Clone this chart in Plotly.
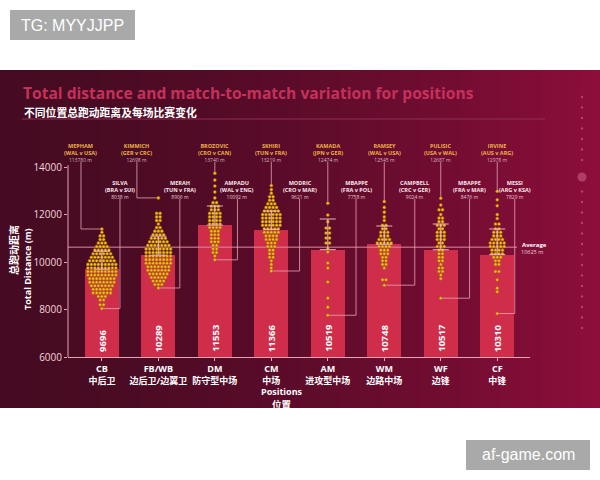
import plotly.graph_objects as go

# ---------------- data ----------------
positions = ["CB", "FB/WB", "DM", "CM", "AM", "WM", "WF", "CF"]
positions_cn = ["中后卫", "边后卫/边翼卫", "防守型中场", "中场", "进攻型中场", "边路中场", "边锋", "中锋"]
mean_dist = [9696, 10289, 11553, 11366, 10519, 10748, 10517, 10310]
sd_top = [10450, 11090, 12358, 12147, 11810, 11516, 11600, 11390]
average = 10625

max_players = ["MEPHAM", "KIMMICH", "BROZOVIC", "SKHIRI", "KAMADA", "RAMSEY", "PULISIC", "IRVINE"]
max_matches = ["(WAL v USA)", "(GER v CRC)", "(CRO v CAN)", "(TUN v FRA)", "(JPN v GER)", "(WAL v USA)", "(USA v WAL)", "(AUS v ARG)"]
max_labels = ["113780", "12698", "13740", "13219", "12474", "12545", "12687", "12978"]
min_players = ["SILVA", "MERAH", "AMPADU", "MODRIC", "MBAPPE", "CAMPBELL", "MBAPPE", "MESSI"]
min_matches = ["(BRA v SUI)", "(TUN v FRA)", "(WAL v ENG)", "(CRO v MAR)", "(FRA v POL)", "(CRC v GER)", "(FRA v MAR)", "(ARG v KSA)"]
min_labels = ["8038", "8906", "10092", "9621", "7758", "9024", "8476", "7829"]

# swarm rows: (distance, number of dots in that row), top to bottom
cb_swarm = [(11390, 1), (11250, 1), (11100, 2), (10950, 2), (10800, 3), (10650, 4), (10500, 5), (10350, 6),
            (10200, 7), (10050, 8), (9900, 9), (9750, 9), (9600, 9), (9450, 9), (9300, 8), (9150, 8),
            (9000, 7), (8850, 6), (8700, 6), (8550, 3), (8400, 2), (8200, 2), (8038, 1)]
fb_swarm = [(12698, 1), (12050, 2), (11900, 2), (11750, 2), (11600, 1), (11450, 2), (11300, 3), (11150, 4),
            (11000, 5), (10850, 6), (10700, 7), (10550, 8), (10400, 8), (10250, 8), (10100, 8), (9950, 8),
            (9800, 7), (9650, 7), (9500, 6), (9350, 5), (9200, 4), (9050, 3), (8906, 1)]
dm_swarm = [(13740, 1), (13450, 1), (13200, 1), (12950, 1), (12700, 1), (12500, 2), (12350, 3), (12200, 3),
            (12050, 4), (11900, 4), (11750, 4), (11600, 4), (11450, 4), (11300, 3), (11150, 3), (11000, 3),
            (10850, 3), (10700, 2), (10550, 2), (10400, 2), (10250, 1), (10092, 1)]
cm_swarm = [(13219, 1), (13050, 1), (12900, 1), (12750, 2), (12600, 2), (12450, 3), (12300, 4), (12150, 5),
            (12000, 6), (11850, 6), (11700, 6), (11550, 6), (11400, 5), (11250, 5), (11100, 4), (10950, 4),
            (10800, 3), (10650, 3), (10500, 2), (10350, 2), (10200, 2), (10050, 1), (9900, 1), (9750, 1), (9621, 1)]
am_swarm = [(12474, 1), (11980, 1), (11700, 1), (11430, 2), (11220, 2), (11010, 2), (10800, 2), (10590, 1),
            (10420, 1), (9960, 1), (9750, 1), (9160, 1), (8480, 1), (8100, 1), (7758, 1)]
wm_swarm = [(12545, 1), (12300, 1), (12100, 1), (11900, 1), (11750, 1), (11550, 2), (11400, 2), (11250, 3),
            (11100, 3), (10950, 4), (10800, 5), (10650, 4), (10500, 3), (10350, 3), (10200, 2), (10050, 2),
            (9900, 2), (9750, 1), (9250, 2), (9024, 1)]
wf_swarm = [(12687, 1), (12400, 1), (12200, 2), (12000, 1), (11850, 2), (11700, 2), (11550, 3), (11400, 2),
            (11250, 3), (11100, 3), (10950, 3), (10800, 2), (10650, 3), (10500, 2), (10350, 2), (10200, 2),
            (10050, 2), (9900, 1), (9750, 2), (9600, 2), (9450, 1), (9300, 1), (8476, 1)]
cf_swarm = [(12978, 1), (12620, 1), (12370, 1), (12000, 1), (11830, 1), (11600, 2), (11400, 2), (11250, 3),
            (11100, 3), (10950, 4), (10800, 5), (10650, 5), (10500, 4), (10350, 4), (10200, 3), (10050, 2),
            (9900, 2), (9600, 2), (9250, 1), (8900, 1), (8750, 1), (7829, 1)]
swarms = [cb_swarm, fb_swarm, dm_swarm, cm_swarm, am_swarm, wm_swarm, wf_swarm, cf_swarm]

ytick_vals = [6000, 8000, 10000, 12000, 14000]
ytick_text = ["6000", "8000", "10000", "12000", "14000"]

# ---------------- layout geometry ----------------
W, H = 600, 480
L, R, T, B = 68, 70, 138, 123
PW, PH = W - L - R, H - T - B
Y0PX = H - B
px_per_m = 47.5 / 2000
y_top = 6000 + PH / px_per_m
x_left, x_right = -0.6, 7.58
unit_px = PW / (x_right - x_left)


def pxx(px):
    return (px - L) / PW


def pxy(py):
    return (Y0PX - py) / PH


def py2data(py):
    return 6000 + (Y0PX - py) / px_per_m


max_off = [-0.37, -0.38, 0, 0, 0, 0, 0, 0]
min_off = [0.32, 0.38, 0.40, 0.50, 0.50, 0.54, 0.51, 0.31]

FONT = "Open Sans, Noto Sans CJK SC, sans-serif"
CJK = "Noto Sans CJK SC, sans-serif"
LINEC = "#e7a2b4"

fig = go.Figure()

# bars
fig.add_trace(go.Bar(
    x=list(range(len(positions))), y=mean_dist, width=0.6,
    marker=dict(color="#cf2d4a", line=dict(width=0)),
    hoverinfo="skip",
))

# average line
fig.add_trace(go.Scatter(
    x=[x_left, 7.35], y=[average, average], mode="lines",
    line=dict(color="#e08aa1", width=1), hoverinfo="skip",
))

# connectors
cx, cy = [], []
top_label_py, low_label_py = 162, 199
for i, sw in enumerate(swarms):
    vmax = sw[0][0]
    vmin = sw[-1][0]
    xm = i + max_off[i]
    cx += [xm, xm, i, None]
    cy += [py2data(top_label_py), vmax, vmax, None]
    xn = i + min_off[i]
    cx += [xn, xn, i, None]
    cy += [py2data(low_label_py), vmin, vmin, None]
fig.add_trace(go.Scatter(x=cx, y=cy, mode="lines", line=dict(color=LINEC, width=0.8),
                         hoverinfo="skip", connectgaps=False))

# swarm dots
dx = 3.5 / unit_px
sx, sy = [], []
for i, sw in enumerate(swarms):
    for val, cnt in sw:
        for k in range(cnt):
            sx.append(i + (k - (cnt - 1) / 2) * dx)
            sy.append(val)
fig.add_trace(go.Scatter(
    x=sx, y=sy, mode="markers",
    marker=dict(size=3.1, color="#f0c01e", line=dict(color="#9a5f00", width=0.5)),
    hoverinfo="skip",
))

# variation caps
fig.add_trace(go.Scatter(
    x=list(range(len(positions))), y=mean_dist, mode="markers",
    marker=dict(size=1, color="rgba(0,0,0,0)"),
    error_y=dict(type="data", symmetric=False,
                 array=[t - m for t, m in zip(sd_top, mean_dist)],
                 arrayminus=[0] * len(mean_dist),
                 color="#eab0c0", thickness=1, width=8),
    hoverinfo="skip",
))

shapes = []
# gradient background panel
N = 60
c0 = (70, 11, 34)
c1 = (142, 14, 60)
for k in range(N):
    t = (k + 0.5) / N
    tt = t ** 1.6
    col = tuple(int(c0[j] + (c1[j] - c0[j]) * tt) for j in range(3))
    x0 = W * k / N
    x1 = W * (k + 1) / N + 0.6
    shapes.append(dict(type="rect", xref="paper", yref="paper",
                       x0=pxx(x0), x1=pxx(x1), y0=pxy(408), y1=pxy(70),
                       fillcolor="rgb(%d,%d,%d)" % col, line=dict(width=0), layer="below"))
# rule under title
shapes.append(dict(type="line", xref="paper", yref="paper", x0=pxx(22), x1=pxx(545),
                   y0=pxy(119), y1=pxy(119), line=dict(color="#8e2f52", width=1), layer="below"))
# y axis line
shapes.append(dict(type="line", xref="paper", yref="y", x0=0, x1=0, y0=6000, y1=14080,
                   line=dict(color=LINEC, width=1)))
# decorative dots on right
for k in range(23):
    py = 97 + k * 10.5
    if abs(py - 177) < 8:
        continue
    r = 1.2
    shapes.append(dict(type="circle", xref="paper", yref="paper",
                       x0=pxx(582 - r), x1=pxx(582 + r), y0=pxy(py + r), y1=pxy(py - r),
                       fillcolor="#b8406c", line=dict(width=0), layer="below"))
rr = 4.5
shapes.append(dict(type="circle", xref="paper", yref="paper",
                   x0=pxx(582 - rr), x1=pxx(582 + rr), y0=pxy(177 + rr), y1=pxy(177 - rr),
                   fillcolor="#b23c68", line=dict(width=0), layer="below"))
# watermark boxes
shapes.append(dict(type="rect", xref="paper", yref="paper", x0=pxx(10), x1=pxx(135),
                   y0=pxy(40), y1=pxy(10), fillcolor="#a9a9a9", line=dict(width=0)))
shapes.append(dict(type="rect", xref="paper", yref="paper", x0=pxx(466), x1=pxx(590),
                   y0=pxy(470), y1=pxy(440), fillcolor="#a9a9a9", line=dict(width=0)))

ann = []


def A(text, x, y, size, color="white", xref="paper", yref="paper", xanchor="center",
      yanchor="middle", family=FONT, angle=0, yshift=0):
    ann.append(dict(text=text, x=x, y=y, xref=xref, yref=yref, xanchor=xanchor, yanchor=yanchor,
                    showarrow=False, textangle=angle, yshift=yshift,
                    font=dict(size=size, color=color, family=family)))


A("<b>Total distance and match-to-match variation for positions</b>", pxx(21), pxy(92.5), 15.6,
  color="#c4315b", xanchor="left")
A("<b>不同位置总跑动距离及每场比赛变化</b>", pxx(22), pxy(112), 10.8, xanchor="left", family=CJK)
A("<b>总跑动距离</b>", pxx(13), pxy(250), 10, family=CJK, angle=-90)
A("<b>Total Distance (m)</b>", pxx(27), pxy(269), 9, angle=-90)
A("<b>Positions</b>", pxx(282), pxy(391), 9)
A("<b>位置</b>", pxx(282), pxy(403.5), 9.5, family=CJK)
A("<b>Average</b>", pxx(534), pxy(245), 6)
A("10625 m", pxx(532), pxy(252), 5.5, color="#f2d2da")
A("TG: MYYJJPP", pxx(72.5), pxy(25), 16, family="Liberation Sans, Arial, sans-serif")
A("af-game.com", pxx(528), pxy(455), 16, family="Liberation Sans, Arial, sans-serif")

for i in range(len(positions)):
    A("<b>%d</b>" % mean_dist[i], i, 6000, 9.5, xref="x", yref="y", yanchor="bottom",
      angle=-90, yshift=3)
    A("<b>%s</b><br><b>%s</b><br><span style='font-size:5px;color:#d9b2bd'>%s m</span>"
      % (max_players[i], max_matches[i], max_labels[i]),
      i + max_off[i], py2data(140), 5.5, color="#eeb341", xref="x", yref="y", yanchor="top")
    A("<b>%s</b><br><b>%s</b><br><span style='font-size:5px;color:#e6c6ce'>%s m</span>"
      % (min_players[i], min_matches[i], min_labels[i]),
      i + min_off[i], py2data(177), 5.5, color="#fbe8ec", xref="x", yref="y", yanchor="top")

fig.update_layout(
    width=W, height=H, margin=dict(l=L, r=R, t=T, b=B, pad=0),
    paper_bgcolor="white", plot_bgcolor="rgba(0,0,0,0)",
    showlegend=False, shapes=shapes, annotations=ann,
    font=dict(family=FONT, color="white"),
    xaxis=dict(range=[x_left, x_right], tickmode="array", tickvals=list(range(len(positions))),
               ticktext=["<b>%s</b><br><b>%s</b>" % (a, b) for a, b in zip(positions, positions_cn)],
               tickfont=dict(size=9, color="white", family=FONT), showgrid=False, zeroline=False,
               showline=True, linecolor=LINEC, linewidth=1, ticks="outside", ticklen=3,
               tickcolor=LINEC, fixedrange=True),
    yaxis=dict(range=[6000, y_top], tickmode="array", tickvals=ytick_vals, ticktext=ytick_text,
               tickfont=dict(size=10, color="#f3d6de", family=FONT), showgrid=False, zeroline=False,
               showline=False, ticks="outside", ticklen=3, tickcolor=LINEC, fixedrange=True),
    bargap=0,
)

fig.write_html("out.html")
